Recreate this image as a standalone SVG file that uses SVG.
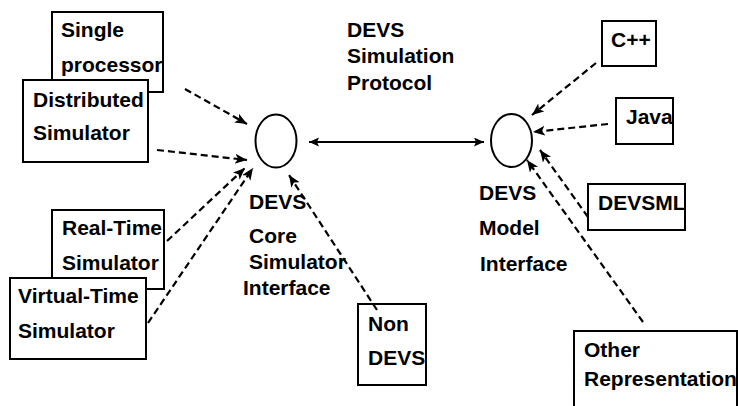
<svg xmlns="http://www.w3.org/2000/svg" width="738" height="406" viewBox="0 0 738 406">
  <style>
    .box { fill: #fff; stroke: #000; stroke-width: 2; }
    .port { fill: #fff; stroke: #000; stroke-width: 2; }
    .lbl { font-family: "Liberation Sans", Arial, sans-serif; font-weight: bold; font-size: 21px; fill: #000; }
    .dash { fill: none; stroke: #000; stroke-width: 2.2; stroke-dasharray: 7 4; }
    .solid { fill: none; stroke: #000; stroke-width: 2.2; }
  </style>
  <defs>
    <marker id="head" markerUnits="userSpaceOnUse" markerWidth="13" markerHeight="11" refX="12" refY="5" orient="auto">
      <path d="M0,0 L12,5 L0,10 L3,5 z" fill="#000"/>
    </marker>
    <marker id="tip" markerUnits="userSpaceOnUse" markerWidth="11" markerHeight="10" refX="10" refY="4.5" orient="auto-start-reverse">
      <path d="M0,0 L10,4.5 L0,9 L2,4.5 z" fill="#000"/>
    </marker>
  </defs>

  <rect width="738" height="406" fill="#fff"/>

  <!-- simulator side -->
  <g id="single-processor">
    <rect class="box" x="52" y="12" width="111" height="80"/>
    <text class="lbl" x="61" y="37">Single</text>
    <text class="lbl" x="61" y="72">processor</text>
  </g>
  <g id="distributed-simulator">
    <rect class="box" x="23" y="80" width="125" height="82"/>
    <text class="lbl" x="33" y="107">Distributed</text>
    <text class="lbl" x="33" y="140">Simulator</text>
  </g>
  <g id="real-time-simulator">
    <rect class="box" x="52" y="210" width="112" height="79"/>
    <text class="lbl" x="62" y="235">Real-Time</text>
    <text class="lbl" x="62" y="270">Simulator</text>
  </g>
  <g id="virtual-time-simulator">
    <rect class="box" x="10" y="278" width="136" height="81"/>
    <text class="lbl" x="18" y="303">Virtual-Time</text>
    <text class="lbl" x="18" y="338">Simulator</text>
  </g>
  <g id="non-devs">
    <rect class="box" x="358" y="304" width="68" height="81"/>
    <text class="lbl" x="368" y="331">Non</text>
    <text class="lbl" x="368" y="365">DEVS</text>
  </g>

  <g id="core-simulator-interface">
    <ellipse class="port" cx="276" cy="141" rx="20.5" ry="26.5"/>
    <text class="lbl" x="249" y="209">DEVS</text>
    <text class="lbl" x="249" y="243">Core</text>
    <text class="lbl" x="249" y="269">Simulator</text>
    <text class="lbl" x="243" y="295">Interface</text>
  </g>

  <g id="simulation-protocol">
    <text class="lbl" x="347" y="37">DEVS</text>
    <text class="lbl" x="347" y="63">Simulation</text>
    <text class="lbl" x="347" y="90">Protocol</text>
  </g>

  <!-- model side -->
  <g id="model-interface">
    <ellipse class="port" cx="511.5" cy="140.5" rx="20.5" ry="26.5"/>
    <text class="lbl" x="479" y="200">DEVS</text>
    <text class="lbl" x="479" y="235">Model</text>
    <text class="lbl" x="480" y="271">Interface</text>
  </g>
  <g id="cpp">
    <rect class="box" x="602" y="21" width="54" height="45"/>
    <text class="lbl" x="611" y="47">C++</text>
  </g>
  <g id="java">
    <rect class="box" x="616" y="98" width="57" height="46"/>
    <text class="lbl" x="626" y="124">Java</text>
  </g>
  <g id="devsml">
    <rect class="box" x="588" y="184" width="97" height="46"/>
    <text class="lbl" x="598" y="210">DEVSML</text>
  </g>
  <g id="other-representation">
    <rect class="box" x="574" y="331" width="163" height="90"/>
    <text class="lbl" x="584" y="357">Other</text>
    <text class="lbl" x="584" y="386">Representation</text>
  </g>

  <!-- connectors -->
  <g id="connectors">
    <line class="dash" x1="185" y1="89" x2="247" y2="124" marker-end="url(#head)"/>
    <line class="dash" x1="157" y1="150" x2="247" y2="160" marker-end="url(#head)"/>
    <line class="dash" x1="167" y1="241" x2="245" y2="168" marker-end="url(#head)"/>
    <line class="dash" x1="148" y1="323" x2="253" y2="168" marker-end="url(#head)"/>
    <line class="dash" x1="377" y1="310" x2="289" y2="175" marker-end="url(#head)"/>
    <line class="solid" x1="309" y1="142" x2="484" y2="142" marker-start="url(#tip)" marker-end="url(#tip)"/>
    <line class="dash" x1="596" y1="63" x2="532" y2="115" marker-end="url(#head)"/>
    <line class="dash" x1="608" y1="124" x2="533" y2="132" marker-end="url(#head)"/>
    <line class="dash" x1="588" y1="217" x2="540" y2="150" marker-end="url(#head)"/>
    <line class="dash" x1="643" y1="322" x2="527" y2="160" marker-end="url(#head)"/>
  </g>
</svg>
